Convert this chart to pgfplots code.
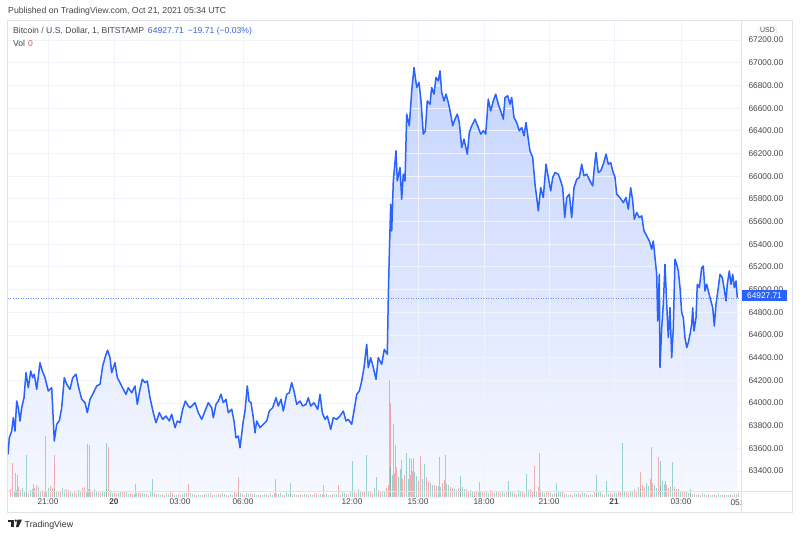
\documentclass[border=0pt]{standalone}
\usepackage{fontspec}
\setmainfont{Liberation Sans}
\usepackage{pgfplots}
\pgfplotsset{compat=1.18}
\usepackage{pgfplotstable}
\definecolor{tvblue}{RGB}{41,98,255}
\definecolor{areatop}{RGB}{197,212,255}
\definecolor{areabot}{RGB}{246,248,255}
\definecolor{gridc}{RGB}{240,243,250}
\definecolor{volred}{RGB}{239,83,80}
\definecolor{volgreen}{RGB}{38,166,154}
\definecolor{txt}{RGB}{70,70,70}
\definecolor{bordc}{RGB}{224,227,235}
\definecolor{legblue}{RGB}{60,100,215}

\pgfplotstableread{
x y
8 63547
9.3 63693
11.7 63752
13.3 63870
15 63752
16.7 64017
18.3 63958
20 63841
21.7 63958
24 64046
26 64267
28.3 64134
30.7 64282
32.7 64223
34.3 64253
36.7 64120
40 64355
42.3 64282
45 64223
48.3 64105
51.7 64134
54.3 63664
56.7 63812
59.3 63841
61.7 63958
64.3 64223
66.7 64165
70 64120
72.7 64223
76 64253
78.3 64150
81.7 64032
85 64002
87.3 63914
90 64032
92.7 64076
96.7 64150
100 64165
102.7 64326
106 64429
107.7 64465
110 64399
111.7 64267
115 64355
117.3 64223
120 64179
123.3 64120
126 64076
128.3 64134
131.7 64090
135 64150
137.3 63988
140 64120
142.3 64209
145 64179
147.3 64194
150 64046
153.3 63914
156 63826
159.3 63914
162.7 63856
166 63885
169.3 63841
171.7 63900
175 63782
177.3 63841
180 63826
182.7 63944
185.3 64017
188.3 63973
190 63958
195 64002
198.3 63914
201.7 63856
205 63929
208.3 64002
211.7 63958
213.3 63870
216 63988
218.3 64017
221 64076
223.3 64002
226 64032
228.3 63914
231.7 63944
234 63841
236 63693
238.3 63708
240 63605
243.3 63841
245 63929
247.3 64150
249 64017
251 64002
253.3 63870
255 63737
256.7 63841
260 63782
263.3 63812
266.7 63841
269.3 63929
272.7 63958
276 64046
278.3 63973
281 64032
283.3 63929
286.7 64076
289.3 64090
291.7 64179
294 64105
296.7 63988
300 64017
302.7 63973
306 63988
308.3 64046
310.7 63973
314 64002
317.7 63944
320 64076
322.3 63914
325 63856
327.3 63885
330.7 63767
333.3 63870
336.7 63856
340 63885
343.3 63929
346 63841
348.3 63856
351.7 63812
354 63929
356.7 64076
359.3 64105
361.7 64194
364 64311
366.7 64517
368.3 64311
370.7 64399
373.3 64311
376 64209
378.3 64399
381.7 64341
384.3 64473
387.3 64429
388.3 64929
389.3 65312
390.7 65753
391.7 65517
393.3 65958
396 66223
397.3 65958
400 66076
401.7 65797
403.3 66018
405 65958
406.7 66547
409.3 66444
411.7 66753
414 66958
416.7 66782
419 66826
421 66664
423.3 66371
425.3 66400
427.3 66664
430 66635
431.7 66782
434 66724
436 66870
438.3 66841
440 66929
441.7 66738
444 66664
446 66724
448.3 66649
450.7 66547
452.7 66444
455 66503
457.3 66547
459.3 66473
461.7 66252
464 66326
467.3 66194
469.3 66385
471.7 66444
475 66503
478.3 66429
480.7 66371
483.3 66400
485.7 66371
488.3 66679
490.7 66576
493.3 66664
495.7 66724
498.3 66635
500.7 66576
503.3 66503
505 66694
507.7 66709
510 66635
511.7 66694
514 66517
516.7 66473
519.3 66400
521.7 66429
524 66356
526 66473
528.3 66326
530 66223
532.7 66164
535 65929
536.7 65811
538.3 65694
540.7 65899
543.3 65811
546 66106
548.3 65988
550.7 65870
552.7 65988
555 66032
558.3 66018
560.7 65958
562.7 65899
564.7 65635
566.7 65811
569.3 65841
571.7 65635
574 65899
576.7 65973
579.3 65988
581.7 66106
584 66003
586.7 66018
590 65958
592.7 65914
594 66047
596 66208
598.3 66032
600.7 66047
603.3 66106
606 66194
608.3 66106
610.7 66120
612.7 66047
615 65988
616.7 65841
620 65811
623.3 65767
626 65811
628.3 65709
630.7 65899
632.7 65782
634.3 65621
636.7 65679
639.3 65635
641.7 65650
644 65517
646.7 65473
649.3 65429
651.7 65356
653.3 65429
655 65282
656.7 65135
657.7 64723
659.3 65135
660 64311
661.7 64664
663.3 64871
665 65223
666.7 64871
668.3 64576
670 64841
671.7 64399
673.3 64664
675 65268
676.7 65223
678.3 65164
680 65017
681.7 64796
683.3 64752
685 64576
686.7 64488
688.3 64532
690 64606
691.7 64694
692.7 64841
694 64635
696 64752
697.3 65047
699.3 65017
701.7 65193
703.3 65208
705 64988
706.7 65047
708.3 64988
710 64929
712.7 64841
714.3 64679
716 64871
718.3 65017
720 65135
722.3 65105
724 65017
726 64900
727.3 65047
729.3 65164
731 65047
732.7 65135
734.3 65017
736 65076
737.3 64927.71
}\price

\pgfplotstableread{
x v
10 8
18 10
26 6
34 9
42 7
50 11
58 6
66 8
74 5
82 9
90 7
98 6
106 8
114 5
122 6
130 4
138 5
146 3
154 4
162 3
170 5
178 3
186 4
194 3
202 2
210 4
218 3
226 2
234 5
242 3
250 4
258 2
266 3
274 4
282 2
290 3
298 2
306 3
314 4
322 3
330 2
338 4
346 3
354 5
362 6
370 5
378 7
386 9
394 24
402 18
410 22
418 16
426 20
434 12
442 14
450 10
458 9
466 8
474 6
482 5
490 7
498 5
506 6
514 4
522 5
530 8
538 10
546 6
554 4
562 5
570 3
578 4
586 3
594 5
602 3
610 4
618 6
626 5
634 8
642 12
650 18
658 15
666 12
674 10
682 6
690 4
698 3
706 2
714 3
722 2
730 3
738 4
12.7 34
15 24
17.3 22
45 61
54.3 42
89.3 52
108.3 50
135 13
188.3 13
238.3 20
323.3 12
338.3 12
390 94
395 52
401.7 37
409.3 39
413.3 39
420.7 41
439.3 40
445 42
534 31
539.3 44
640.7 25
651 50
658.3 40
12 5
20 7
28 4
36 12
44 6
52 9
60 5
68 7
76 4
84 10
92 6
100 4
108 7
116 3
124 5
132 3
140 4
148 2
156 3
164 2
172 4
180 2
188 3
196 2
204 3
212 2
220 3
228 2
236 4
244 2
252 3
260 2
268 2
276 3
284 2
292 2
300 3
308 2
316 3
324 2
332 3
340 2
348 3
356 4
364 5
372 4
380 6
388 12
396 30
404 22
412 26
420 19
428 15
436 11
444 17
452 9
460 8
468 6
476 5
484 4
492 5
500 4
508 5
516 3
524 4
532 6
540 7
548 5
556 3
564 4
572 2
580 3
588 2
596 4
604 2
612 3
620 5
628 4
636 6
644 10
652 14
660 11
668 9
676 8
684 5
692 3
700 2
708 3
716 2
724 2
732 2
}\volred

\pgfplotstableread{
x v
14 6
22 9
30 7
38 10
46 6
54 8
62 9
70 5
78 7
86 6
94 8
102 5
110 7
118 4
126 5
134 3
142 4
150 5
158 3
166 4
174 2
182 3
190 4
198 2
206 3
214 2
222 4
230 3
238 5
246 4
254 3
262 2
270 4
278 3
286 5
294 3
302 2
310 3
318 2
326 4
334 3
342 5
350 6
358 8
366 7
374 9
382 6
390 30
398 20
406 15
414 25
422 18
430 14
438 11
446 13
454 8
462 10
470 7
478 6
486 5
494 4
502 6
510 5
518 7
526 9
534 6
542 5
550 4
558 6
566 3
574 4
582 5
590 3
598 6
606 4
614 5
622 8
630 6
638 10
646 14
654 12
662 16
670 10
678 8
686 5
694 3
702 4
710 2
718 3
726 2
734 3
26 42
33.3 13
87.3 53
106 54
152.3 18
275 18
290 14
352.7 36
366 42
376.7 20
389 117
393.3 73
406.7 44
411.7 38
424.3 33
460 21
479.3 15
508.3 16
526 23
556.7 14
596 22
606.7 16
622.3 54
660 36
665 16
672.7 35
690 8
16 7
24 5
32 8
40 6
48 9
56 5
64 7
72 4
80 6
88 8
96 5
104 6
112 4
120 5
128 3
136 4
144 3
152 5
160 2
168 3
176 2
184 4
192 3
200 2
208 3
216 2
224 3
232 2
240 4
248 3
256 2
264 3
272 2
280 4
288 3
296 2
304 3
312 2
320 3
328 2
336 3
344 4
352 5
360 6
368 5
376 7
384 5
392 22
400 28
408 18
416 21
424 16
432 12
440 10
448 12
456 7
464 8
472 6
480 5
488 4
496 5
504 4
512 6
520 5
528 7
536 5
544 4
552 3
560 5
568 2
576 3
584 4
592 2
600 5
608 3
616 4
624 6
632 5
640 8
648 11
656 9
664 13
672 8
680 6
688 4
696 2
704 3
712 2
720 2
728 2
736 3
}\volgreen

\begin{document}
\begin{tikzpicture}[x=1pt,y=1pt]
\fill[white] (0,0) rectangle (800,538);
% chart frame
\draw[bordc, line width=0.8pt] (7.5,26) rectangle (792.5,518);

% axis A: grid, fill, tick labels
\begin{axis}[at={(8,40.7)}, anchor=south west, width=733pt, height=471pt, scale only axis,
  xmin=8, xmax=741, ymin=63216, ymax=67370,
  axis line style={draw=none}, major tick length=0pt,
  grid=major, grid style={gridc, line width=0.8pt}, axis on top,
  xtick={48,114,180,243,352,418,484,549,614,681},
  xticklabels={21:00,\textbf{20},03:00,06:00,12:00,15:00,18:00,21:00,\textbf{21},03:00},
  ytick={63400,63600,...,67200},
  scaled y ticks=false,
  yticklabel pos=right,
  ticklabel style={font=\fontsize{8.3}{9}\selectfont, text=txt},
  xticklabel style={yshift=-3pt},
  yticklabel style={anchor=west, xshift=4pt},
  y tick label style={/pgf/number format/fixed, /pgf/number format/fixed zerofill, /pgf/number format/precision=2, /pgf/number format/1000 sep={}, /pgf/number format/assume math mode=true},
  clip=true]
\addplot[draw=none, top color=areatop, bottom color=areabot] table[x=x,y=y]{\price} -- (axis cs:737.3,63216) -- (axis cs:8,63216) -- cycle;
\end{axis}

% axis B: volume
\begin{axis}[at={(8,40.7)}, anchor=south west, width=733pt, height=471pt, scale only axis,
  xmin=8, xmax=741, ymin=0, ymax=471, hide axis]
\addplot[ycomb, no markers, volred, opacity=0.45, line width=0.8pt] table[x=x,y=v]{\volred};
\addplot[ycomb, no markers, volgreen, opacity=0.45, line width=0.8pt] table[x=x,y=v]{\volgreen};
\end{axis}

% axis C: price line
\begin{axis}[at={(8,40.7)}, anchor=south west, width=733pt, height=471pt, scale only axis,
  xmin=8, xmax=741, ymin=63216, ymax=67370, hide axis]
\addplot[tvblue!70, dotted, line width=0.5pt] coordinates {(8,64927.71) (741,64927.71)};
\addplot[tvblue, line width=1.5pt, line join=round, no markers] table[x=x,y=y]{\price};
\end{axis}

% separators
\draw[bordc, line width=0.8pt] (741,26) -- (741,518);
\draw[bordc, line width=0.8pt] (7.5,47) -- (792.5,47);

% last x label, cut
\node[font=\fontsize{8.3}{9}\selectfont, text=txt, anchor=west] at (727,35.5) {05:};

% last price label
\node[fill=tvblue, text=white, font=\fontsize{8.3}{9}\selectfont, inner sep=0pt, minimum width=45pt, minimum height=11.5pt] at (764.5,242.5) {64927.71};

% USD box
\node[draw=bordc, fill=white, rounded corners=2pt, font=\fontsize{7}{8}\selectfont, text=txt, inner sep=1.5pt] at (767.5,507.5) {USD};

% header
\node[anchor=base west, font=\fontsize{8.7}{10}\selectfont, text=txt, inner sep=0pt] at (8,524.5) {Published on TradingView.com, Oct 21, 2021 05:34 UTC};
\node[anchor=base west, font=\fontsize{8.6}{10}\selectfont, text=txt, inner sep=0pt] at (13,504) {Bitcoin / U.S. Dollar, 1, BITSTAMP\hspace{4pt}\textcolor{legblue}{64927.71\hspace{4pt}−19.71 (−0.03\%)}};
\node[anchor=base west, font=\fontsize{8.6}{10}\selectfont, text=txt, inner sep=0pt] at (13,491) {Vol\hspace{3pt}\textcolor{volred}{0}};

% TradingView logo
\fill[black!85] (8,16) rectangle (14,18.5);
\fill[black!85] (11,11) rectangle (13.5,18.5);
\fill[black!85] (15.8,17.3) circle (1.3);
\fill[black!85] (17.5,18.5) -- (22,18.5) -- (18.5,11) -- (16,11) -- cycle;
\node[anchor=base west, font=\fontsize{8.8}{10}\selectfont, text=black!80, inner sep=0pt] at (24.5,11) {TradingView};
\end{tikzpicture}
\end{document}
